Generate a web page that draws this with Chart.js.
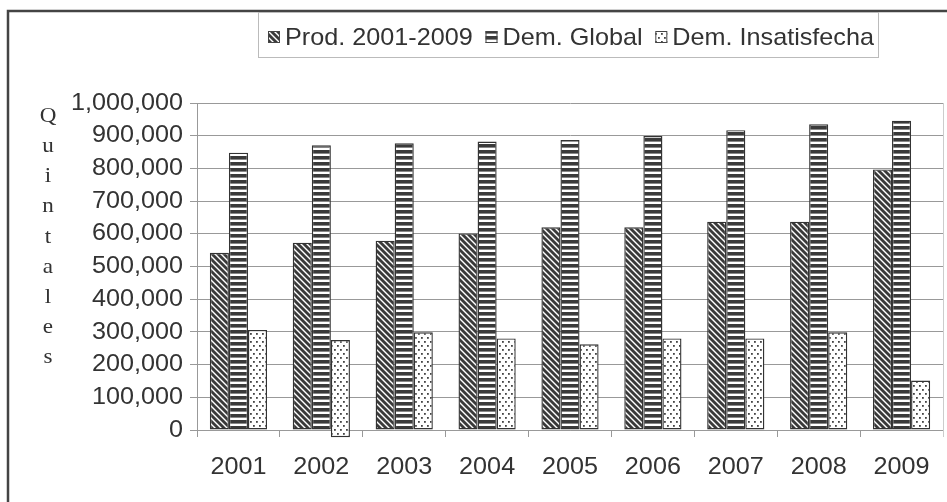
<!DOCTYPE html>
<html><head><meta charset="utf-8">
<script src="https://cdn.jsdelivr.net/npm/chart.js@4.4.0/dist/chart.umd.min.js"></script>
<style>html,body{margin:0;padding:0;background:#fff;overflow:hidden}#wrap{position:relative;width:947px;height:502px}</style>
</head><body><div id="wrap"><canvas id="c" width="947" height="502"></canvas></div>
<script>
const categories = ['2001','2002','2003','2004','2005','2006','2007','2008','2009'];
const prodValues = [542000, 573000, 579000, 601000, 620000, 620000, 637000, 637000, 797000];
const globalValues = [848000, 871000, 877000, 882000, 887000, 899000, 917000, 935000, 946000];
const insatValues = [306000, 275000, 299000, 280000, 262000, 280000, 280000, 299000, 151000];
const insatBase = [0, -22000, 0, 0, 0, 0, 0, 0, 0];
const seriesNames = ['Prod. 2001-2009', 'Dem. Global', 'Dem. Insatisfecha'];
const yTicks = [0,100000,200000,300000,400000,500000,600000,700000,800000,900000,1000000];
const axisTitle = 'Quintales';

const SX = 1.05; // slight horizontal text stretch seen in the reference
const canvas = document.getElementById('c');
const c2d = canvas.getContext('2d');
const origFillText = c2d.fillText;
c2d.fillText = function(text, x, y, maxW){
  this.save(); this.translate(x, y); this.scale(SX, 1);
  origFillText.call(this, text, 0, 0);
  this.restore();
};

const INK = '#3a3a3a';
function makePattern(kind){
  const t = document.createElement('canvas');
  const g = t.getContext('2d');
  if(kind === 'diag'){
    t.width = 6; t.height = 6;
    g.fillStyle = '#fff'; g.fillRect(0,0,6,6);
    g.strokeStyle = INK; g.lineWidth = 2.8;
    for(const o of [-6,0,6]){ g.beginPath(); g.moveTo(o-1,-1); g.lineTo(o+7,7); g.stroke(); }
  } else if(kind === 'hor'){
    t.width = 6; t.height = 6;
    g.fillStyle = '#fff'; g.fillRect(0,0,6,6);
    g.fillStyle = INK; g.fillRect(0,0,6,3.6);
  } else {
    t.width = 6; t.height = 8;
    g.fillStyle = '#fff'; g.fillRect(0,0,6,8);
    g.fillStyle = '#444';
    g.fillRect(1,1,1.8,1.8); g.fillRect(4,5,1.8,1.8);
  }
  return c2d.createPattern(t,'repeat');
}
const patterns = [makePattern('diag'), makePattern('hor'), makePattern('dots')];

const decorPlugin = {
  id:'decor',
  afterDraw(chart){
    const ctx = chart.ctx, ca = chart.chartArea;
    ctx.save();
    // right plot border
    ctx.strokeStyle = '#ccc'; ctx.lineWidth = 1;
    ctx.beginPath(); ctx.moveTo(ca.right+0.5, ca.top); ctx.lineTo(ca.right+0.5, ca.bottom+7); ctx.stroke();
    // outer frame (top & left)
    ctx.strokeStyle = '#444'; ctx.lineWidth = 2.5;
    ctx.beginPath(); ctx.moveTo(8, 502); ctx.lineTo(8, 11); ctx.lineTo(947, 11); ctx.stroke();
    // legend
    ctx.strokeStyle = '#bbb'; ctx.lineWidth = 1;
    ctx.strokeRect(258.5, 12.5, 620, 45);
    ctx.font = '24px "Liberation Sans", Arial, sans-serif';
    const widths = seriesNames.map(s => ctx.measureText(s).width * SX);
    const iconW = 12, iconGap = 5;
    const startX = 268, endX = 874;
    const used = widths.reduce((a,w)=>a+iconW+iconGap+w,0);
    const gap = Math.max(1,(endX-startX-used)/2);
    let x = startX;
    seriesNames.forEach((s,i)=>{
      ctx.fillStyle = patterns[i];
      ctx.fillRect(x, 31, iconW, 12);
      ctx.strokeStyle = '#444'; ctx.strokeRect(x+0.5, 31.5, iconW-1, 11);
      ctx.fillStyle = '#333'; ctx.textBaseline = 'alphabetic'; ctx.textAlign = 'left';
      ctx.fillText(s, x+iconW+iconGap, 45);
      x += iconW + iconGap + widths[i] + gap;
    });
    // y title, stacked letters
    ctx.font = '22px "Liberation Serif", "Times New Roman", serif';
    ctx.fillStyle = '#333'; ctx.textAlign = 'center'; ctx.textBaseline = 'middle';
    axisTitle.split('').forEach((ch,i)=>{ ctx.fillText(ch, 48, 116 + i*30.2); });
    ctx.restore();
  }
};

new Chart(canvas, {
  type:'bar',
  data:{
    labels: categories,
    datasets:[
      {label:seriesNames[0], data: prodValues, backgroundColor: patterns[0]},
      {label:seriesNames[1], data: globalValues, backgroundColor: patterns[1]},
      {label:seriesNames[2], data: insatValues.map((v,i)=>[insatBase[i], v]), backgroundColor: patterns[2], clip:false}
    ]
  },
  options:{
    responsive:false, animation:false, devicePixelRatio:1,
    layout:{padding:{top:103, left:0, right:4, bottom:0}},
    datasets:{bar:{categoryPercentage:0.69, barPercentage:1, borderColor:'#333', borderWidth:1.4, borderSkipped:false}},
    plugins:{legend:{display:false}, tooltip:{enabled:false}},
    scales:{
      x:{
        grid:{offset:true, drawOnChartArea:false, tickLength:7, color:'#999'},
        border:{color:'#999'},
        ticks:{font:{family:'"Liberation Sans", Arial, sans-serif', size:24}, color:'#333', padding:16},
        afterFit(s){ s.height = 72; }
      },
      y:{
        min:0, max:1000000,
        afterBuildTicks(s){ s.ticks = yTicks.map(v=>({value:v})); },
        ticks:{font:{family:'"Liberation Sans", Arial, sans-serif', size:24}, color:'#333', padding:7,
          callback:v=>Number(v).toLocaleString('en-US')},
        grid:{color:'#999', tickLength:7},
        border:{color:'#999'},
        afterFit(s){ s.width = 197; }
      }
    }
  },
  plugins:[decorPlugin]
});
</script></body></html>
